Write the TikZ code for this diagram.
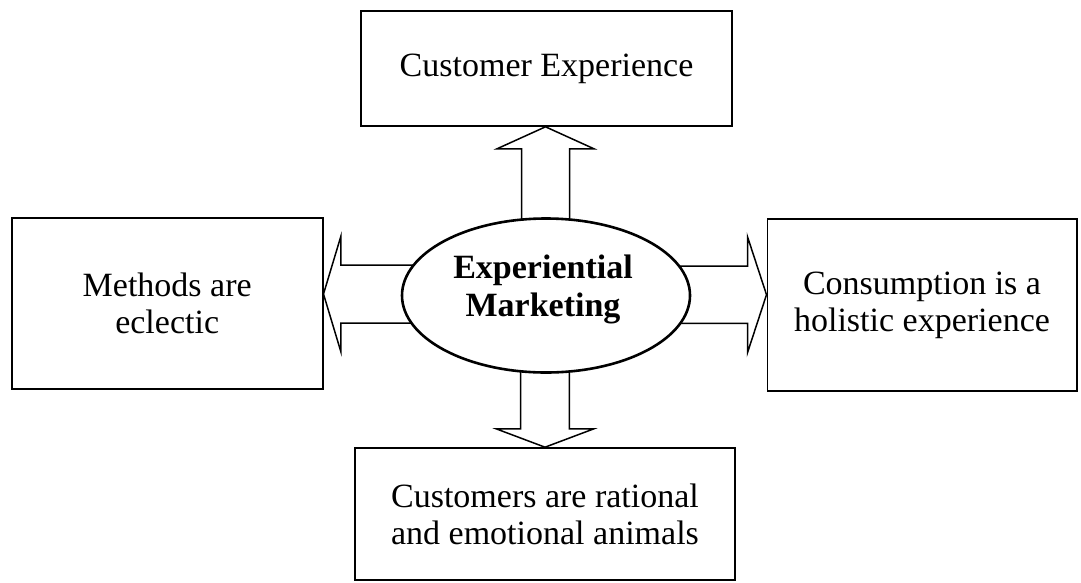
\documentclass[tikz,border=0pt]{standalone}
\usepackage{fontspec}
\setmainfont{Liberation Serif}
\usetikzlibrary{shapes.geometric,calc}
\tikzset{
  box/.style={draw=black, line width=1.6pt, fill=white, rectangle, inner sep=0pt, align=center,
    font=\fontsize{34}{37}\selectfont},
  blockarrow/.style={draw=black, line width=1.5pt, fill=white, line join=miter},
  centre/.style={draw=black, line width=2.6pt, fill=white, ellipse, inner sep=0pt},
  centretext/.style={align=center, inner sep=0pt, font=\fontsize{34}{38}\selectfont\bfseries}
}
\begin{document}
\begin{tikzpicture}[x=1pt,y=-1pt]
\useasboundingbox (0,0) rectangle (1081,582);
% boxes
\node[box, minimum width=371pt, minimum height=115pt] (ce) at (546.5,68.5) {Customer Experience};
\node[box, minimum width=311pt, minimum height=171pt] (me) at (167.2,303.5) {Methods are\\eclectic};
\node[box, minimum width=309.4pt, minimum height=172pt] (co) at (922,305) {Consumption is a\\holistic experience};
\node[box, minimum width=380pt, minimum height=132pt] (cu) at (545,514) {Customers are rational\\and emotional animals};
% ellipse position
\coordinate (ec) at (546,295.5);
% block arrows
\coordinate (tT) at ($(ce.south)+(-1,0)$);
\draw[blockarrow] (tT) -- ++(48.5,22) -- ++(-24.5,0) -- ++(0,80) -- ++(-48,0) -- ++(0,-80) -- ++(-24.5,0) -- cycle;
\coordinate (tL) at ($(me.east |- ec)+(0,-1.5)$);
\draw[blockarrow] (tL) -- ++(17.3,-57.5) -- ++(0,28.5) -- ++(75,0) -- ++(0,58) -- ++(-75,0) -- ++(0,28.5) -- cycle;
\coordinate (tR) at ($(co.west |- ec)+(0,-0.8)$);
\draw[blockarrow] (tR) -- ++(-19,-58) -- ++(0,29.3) -- ++(-75,0) -- ++(0,57.4) -- ++(75,0) -- ++(0,29.3) -- cycle;
\coordinate (tB) at (cu.north);
\draw[blockarrow] (tB) -- ++(-48.6,-18.3) -- ++(24.3,0) -- ++(0,-80) -- ++(48.6,0) -- ++(0,80) -- ++(24.3,0) -- cycle;
% central ellipse
\node[centre, minimum width=288pt, minimum height=154pt] (em) at (ec) {};
\node[centretext] (emt) at (543,289) {Experiential\\Marketing};
\end{tikzpicture}
\end{document}
